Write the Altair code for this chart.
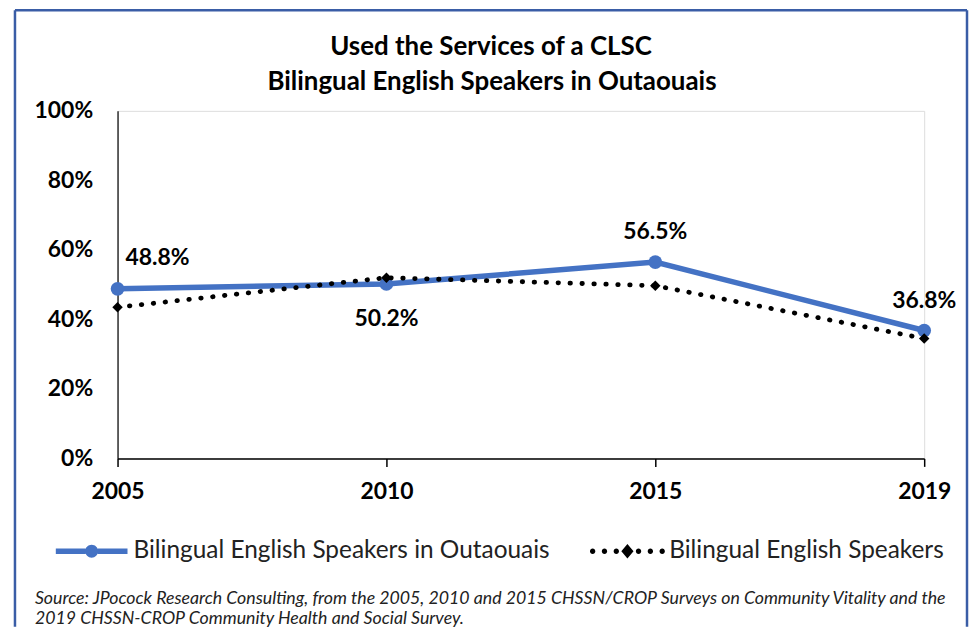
import altair as alt
import pandas as pd

# ---- data ----
years = ["2005", "2010", "2015", "2019"]
series_names = ["Bilingual English Speakers in Outaouais", "Bilingual English Speakers"]
outaouais = [0.488, 0.502, 0.565, 0.368]
bilingual = [0.435, 0.520, 0.497, 0.345]
title_lines = ["Used the Services of a CLSC", "Bilingual English Speakers in Outaouais"]
source_lines = [
    "Source: JPocock Research Consulting, from the 2005, 2010  and 2015  CHSSN/CROP Surveys on Community Vitality and the",
    "2019  CHSSN-CROP Community Health and Social Survey.",
]

rows = []
for y, v in zip(years, outaouais):
    rows.append({"year": y, "series": series_names[0], "value": v})
for y, v in zip(years, bilingual):
    rows.append({"year": y, "series": series_names[1], "value": v})
df = pd.DataFrame(rows)

BLUE = "#4472C4"
FRAME = "#3A5DA6"
FONT = "Lato"
W, H = 810, 349
PAD = {"left": 110, "top": 102, "right": 45, "bottom": 169}

x_enc = alt.X("year:O", scale=alt.Scale(type="point", padding=0), title=None,
              axis=alt.Axis(labelAngle=0, domainColor="black", tickColor="black", tickSize=8,
                            tickWidth=1.5, domainWidth=1.5, labelFont=FONT, labelFontWeight="bold",
                            labelFontSize=23, labelColor="black", labelPadding=14, grid=False))
y_enc = alt.Y("value:Q", scale=alt.Scale(domain=[0, 1]), title=None,
              axis=alt.Axis(format=".0%", values=[0, 0.2, 0.4, 0.6, 0.8, 1.0], grid=False, ticks=False,
                            domainColor="black", domainWidth=1.2, labelPadding=25, labelFont=FONT,
                            labelFontWeight="bold", labelFontSize=23, labelColor="black"))

base = alt.Chart(df).encode(x=x_enc, y=y_enc)

is_out = alt.datum.series == series_names[0]
is_bil = alt.datum.series == series_names[1]

blue_line = base.transform_filter(is_out).mark_line(color=BLUE, strokeWidth=5.5)
blue_pts = base.transform_filter(is_out).mark_point(filled=True, shape="circle", size=190, color=BLUE, opacity=1)
blk_line = base.transform_filter(is_bil).mark_line(color="black", strokeWidth=4.8, strokeDash=[0.5, 11.5],
                                                   strokeCap="round")
blk_pts = base.transform_filter(is_bil).mark_point(filled=True, shape="diamond", size=110, color="black", opacity=1)

lab_kw = dict(font=FONT, fontWeight="bold", fontSize=23, color="black")
lab_first = base.transform_filter(is_out & (alt.datum.year == "2005")).mark_text(
    align="left", baseline="middle", dx=8, dy=-31, **lab_kw).encode(text=alt.Text("value:Q", format=".1%"))
lab_below = base.transform_filter(is_out & (alt.datum.year == "2010")).mark_text(
    align="center", baseline="middle", dy=35, **lab_kw).encode(text=alt.Text("value:Q", format=".1%"))
lab_above = base.transform_filter(is_out & (alt.datum.year != "2005") & (alt.datum.year != "2010")).mark_text(
    align="center", baseline="middle", dy=-30, **lab_kw).encode(text=alt.Text("value:Q", format=".1%"))

# legend symbols (custom paths in unit coordinates)
blue_sym = ("M-1,-0.075 L-0.17,-0.075 L-0.17,0.075 L-1,0.075 Z "
            "M0.17,-0.075 L1,-0.075 L1,0.075 L0.17,0.075 Z "
            "M-0.18,0 A0.18,0.18 0 1,1 0.18,0 A0.18,0.18 0 1,1 -0.18,0 Z")
dots = []
for cx in [-0.97, -0.64, -0.31, 0.31, 0.64, 0.97]:
    r = 0.075
    dots.append(f"M{cx - r},0 A{r},{r} 0 1,1 {cx + r},0 A{r},{r} 0 1,1 {cx - r},0 Z")
blk_sym = " ".join(dots) + " M0,-0.2 L0.17,0 L0,0.2 L-0.17,0 Z"

legend_layer = alt.Chart(df).mark_point(filled=True, opacity=0, strokeWidth=0).encode(
    x=alt.X("year:O"), y=alt.Y("value:Q"),
    color=alt.Color("series:N", scale=alt.Scale(domain=series_names, range=[BLUE, "black"]),
                    legend=alt.Legend(orient="none", legendX=-62, legendY=406, direction="horizontal",
                                      title=None, symbolSize=5184, symbolOpacity=1, symbolStrokeWidth=0,
                                      labelFont=FONT, labelFontSize=24.5, labelColor="#222222",
                                      labelOffset=6, columnPadding=39, padding=0, labelLimit=700)),
    shape=alt.Shape("series:N", scale=alt.Scale(domain=series_names, range=[blue_sym, blk_sym]), legend=None),
)

frame_df = pd.DataFrame({"k": [0]})
fr = alt.Chart(frame_df)
frame_left = fr.mark_rule(color=FRAME, strokeWidth=2.5).encode(
    x=alt.value(-103), y=alt.value(-101), y2=alt.value(H + PAD["bottom"]))
frame_right = fr.mark_rule(color=FRAME, strokeWidth=2.5).encode(
    x=alt.value(853), y=alt.value(-101), y2=alt.value(H + PAD["bottom"]))
frame_top = fr.mark_rule(color=FRAME, strokeWidth=2.5).encode(
    y=alt.value(-101), x=alt.value(-103), x2=alt.value(853))

title_kw = dict(font=FONT, fontWeight="bold", fontSize=26, color="black", align="center", baseline="middle")
title1 = fr.mark_text(text=title_lines[0], **title_kw).encode(x=alt.value(375), y=alt.value(-64))
title2 = fr.mark_text(text=title_lines[1], **title_kw).encode(x=alt.value(376), y=alt.value(-29))

src_kw = dict(font=FONT, fontStyle="italic", fontSize=17.8, color="#222222", align="left", baseline="middle")
src1 = fr.mark_text(text=source_lines[0], **src_kw).encode(x=alt.value(-83), y=alt.value(490))
src2 = fr.mark_text(text=source_lines[1], **src_kw).encode(x=alt.value(-83), y=alt.value(510))

chart = alt.layer(
    frame_left, frame_right, frame_top, title1, title2,
    blue_line, blue_pts, blk_line, blk_pts,
    lab_first, lab_below, lab_above,
    legend_layer, src1, src2,
).properties(
    width=W, height=H,
    autosize=alt.AutoSizeParams(type="none"),
    padding=PAD,
).resolve_scale(color="independent", shape="independent").configure_view(stroke=None).configure(background="white")

chart.save("out.html", embed_options={"renderer": "svg", "actions": False})
